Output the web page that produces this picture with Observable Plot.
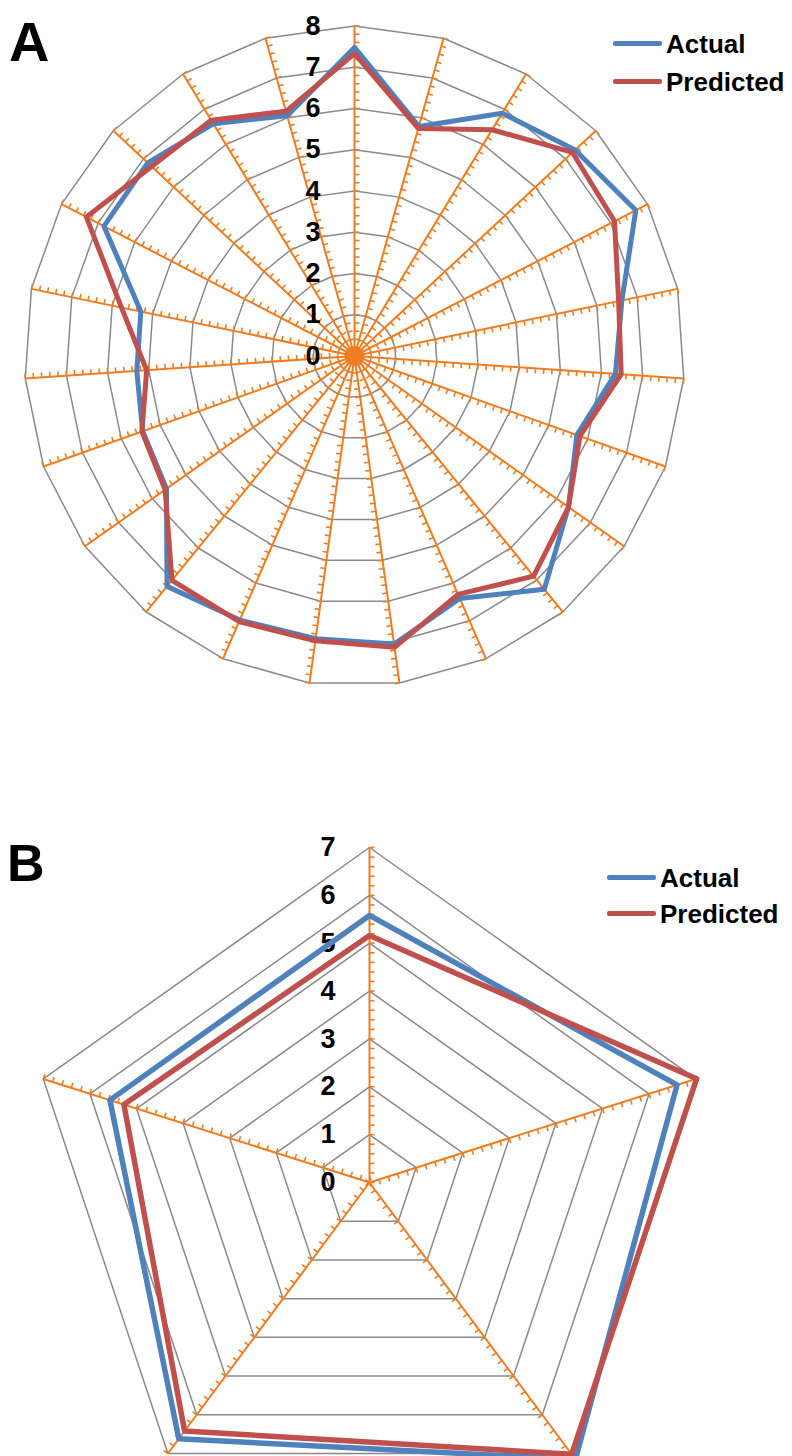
<!DOCTYPE html>
<html><head><meta charset="utf-8">
<script src="https://cdn.jsdelivr.net/npm/d3@7"></script>
<script src="https://cdn.jsdelivr.net/npm/@observablehq/plot@0.6"></script>
<style>
html,body{margin:0;padding:0;background:#fff;overflow:hidden;}
#root{position:relative;width:792px;height:1456px;font-family:"Liberation Sans",Arial,sans-serif;overflow:hidden;}
.panel{position:absolute;left:0;}
.big{position:absolute;font-weight:bold;color:#000;line-height:1;font-family:"Liberation Sans",Arial,sans-serif;}
.lt{position:absolute;font-weight:bold;color:#000;font-size:26px;line-height:1;font-family:"Liberation Sans",Arial,sans-serif;}
.sw{position:absolute;height:5px;width:49px;border-radius:2px;}
</style></head>
<body><div id="root"></div>
<script>
// ---- Data: panel A (23 spokes) ----
const categoriesA = ["1","2","3","4","5","6","7","8","9","10","11","12","13","14","15","16","17","18","19","20","21","22","23"];
const actualA    = [7.48,5.78,6.89,7.32,7.68,6.62,6.34,5.72,6.35,7.29,6.41,7.05,6.92,6.98,7.20,5.58,5.45,5.29,5.29,6.84,6.86,6.59,6.05];
const predictedA = [7.33,5.73,6.42,7.23,7.10,6.54,6.48,5.80,6.35,6.88,6.30,7.13,6.97,7.02,7.01,5.62,5.47,5.05,5.77,7.32,6.73,6.69,6.16];
const axisLabelsA = [0,1,2,3,4,5,6,7,8];

// ---- Data: panel B (5 spokes) ----
const categoriesB = ["1","2","3","4","5"];
const actualB    = [5.58,6.60,7.15,6.62,5.57];
const predictedB = [5.16,7.02,7.02,6.42,5.27];
const axisLabelsB = [0,1,2,3,4,5,6,7];

const seriesNames  = ["Actual","Predicted"];
const seriesColors = ["#4F81BD","#C0504D"];
const gridColor = "#8A8A8A";
const spokeColor = "#EE7D22";

function radar({cats, values, labels, maxV, cx, cy, rx, ry, width, height, lineW, tickLen, hub}) {
  const n = cats.length;
  const ang = i => i * 2 * Math.PI / n;
  const px = (i, v) => v * Math.sin(ang(i));
  const py = (i, v) => v * Math.cos(ang(i));
  const rings = [];
  for (let v = 1; v <= maxV; v++) cats.forEach((c, i) => rings.push({ring: v, x: px(i, v), y: py(i, v)}));
  const spokes = cats.map((c, i) => ({x1: 0, y1: 0, x2: px(i, maxV), y2: py(i, maxV)}));
  const ux = maxV / rx, uy = maxV / ry;
  const ticks = [];
  cats.forEach((c, i) => {
    const a = ang(i);
    for (let j = 0; j <= maxV * 5; j++) {
      const v = j / 5;
      const x1 = px(i, v), y1 = py(i, v);
      ticks.push({x1, y1, x2: x1 + Math.cos(a) * tickLen * ux, y2: y1 - Math.sin(a) * tickLen * uy});
    }
  });
  const seriesData = values.map((vals, s) => cats.map((c, i) => ({series: seriesNames[s], x: px(i, vals[i]), y: py(i, vals[i])})));
  const origin = [labels[0]];
  return Plot.plot({
    width, height, margin: 0,
    style: {background: "transparent", overflow: "visible"},
    x: {type: "linear", domain: [-maxV, maxV], range: [cx - rx, cx + rx], axis: null},
    y: {type: "linear", domain: [-maxV, maxV], range: [cy + ry, cy - ry], axis: null},
    marks: [
      Plot.line(rings, {x: "x", y: "y", z: "ring", curve: "linear-closed", stroke: gridColor, strokeWidth: 1.5}),
      Plot.link(spokes, {x1: "x1", y1: "y1", x2: "x2", y2: "y2", stroke: spokeColor, strokeWidth: 2}),
      Plot.link(ticks, {x1: "x1", y1: "y1", x2: "x2", y2: "y2", stroke: spokeColor, strokeWidth: 1.6}),
      hub ? Plot.dot(origin, {x: d => d, y: d => d, r: hub, fill: spokeColor}) : null,
      Plot.text(labels, {x: 0, y: d => d, text: d => String(d), dx: -34, textAnchor: "end",
        fontSize: 27, fontWeight: "bold", fill: "#000", fontFamily: "Liberation Sans, Arial, sans-serif"}),
      ...seriesData.map((d, s) => Plot.line(d, {x: "x", y: "y", curve: "linear-closed",
        stroke: seriesColors[s], strokeWidth: lineW}))
    ]
  });
}

const root = document.getElementById("root");

const chartA = radar({cats: categoriesA, values: [actualA, predictedA], labels: axisLabelsA, maxV: 8,
  cx: 354, cy: 355.5, rx: 330, ry: 330, width: 792, height: 730, lineW: 5, tickLen: 5, hub: 8});
chartA.classList.add("panel"); chartA.style.top = "0px";
root.appendChild(chartA);

const chartB = radar({cats: categoriesB, values: [actualB, predictedB], labels: axisLabelsB, maxV: 7,
  cx: 369, cy: 422, rx: 343, ry: 335, width: 792, height: 696, lineW: 5.5, tickLen: 5, hub: 0});
chartB.classList.add("panel"); chartB.style.top = "760px";
root.appendChild(chartB);

function addText(cls, txt, left, top, size) {
  const d = document.createElement("div");
  d.className = cls; d.textContent = txt;
  d.style.left = left + "px"; d.style.top = top + "px";
  if (size) d.style.fontSize = size + "px";
  root.appendChild(d);
}
function addLegend(x, yFirst, gap) {
  seriesNames.forEach((name, s) => {
    const y = yFirst + s * gap;
    const sw = document.createElement("div");
    sw.className = "sw"; sw.style.background = seriesColors[s];
    sw.style.left = x + "px"; sw.style.top = (y - 2.5) + "px";
    root.appendChild(sw);
    addText("lt", name, x + 53, y - 12);
  });
}
addText("big", "A", 9, 14, 56);
addText("big", "B", 7, 837, 52);
addLegend(613, 43, 38);
addLegend(607, 877, 36);
</script>
</body></html>
